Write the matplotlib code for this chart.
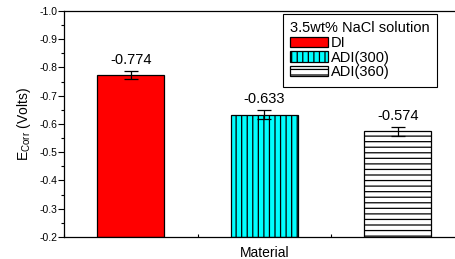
import numpy as np
import matplotlib
matplotlib.use("Agg")
import matplotlib.pyplot as plt
from matplotlib.ticker import MultipleLocator, FormatStrFormatter

plt.rcParams['font.family'] = ['Liberation Sans', 'DejaVu Sans']
plt.rcParams['hatch.linewidth'] = 0.9

# data
materials = ['DI', 'ADI(300)', 'ADI(360)']
e_corr = np.array([-0.774, -0.633, -0.574])
e_err = np.array([0.015, 0.015, 0.015])
base = -0.2
colors = ['#ff0000', '#00ffff', '#ffffff']
hatches = ['', '|||', '---']

fig = plt.figure(figsize=(4.56, 2.59), dpi=100)
# axes run past the right edge like the cropped original
ax = fig.add_axes([64/456, 22/259, 400.5/456, 226/259])

x = np.arange(1, len(materials) + 1)
for i in range(len(materials)):
    ax.bar(x[i], e_corr[i] - base, bottom=base, width=0.5,
           color=colors[i], edgecolor='black', linewidth=0.9,
           hatch=hatches[i], label=materials[i], zorder=2)

ax.errorbar(x, e_corr, yerr=e_err, fmt='none', ecolor='black',
            elinewidth=0.9, capsize=5, capthick=0.9, zorder=3)

for xi, v, er in zip(x, e_corr, e_err):
    ax.text(xi, v - er - 0.014, f'{v:.3f}', ha='center', va='bottom', fontsize=10.5)

ax.set_ylim(-0.2, -1.0)
ax.set_xlim(0.5, 3.5)
ax.yaxis.set_major_locator(MultipleLocator(0.1))
ax.yaxis.set_minor_locator(MultipleLocator(0.05))
ax.yaxis.set_major_formatter(FormatStrFormatter('%.1f'))
ax.xaxis.set_major_locator(MultipleLocator(0.5))
ax.set_xticklabels([])
ax.tick_params(axis='y', which='major', direction='out', length=4, width=0.8, labelsize=7.5, pad=1)
ax.tick_params(axis='y', which='minor', direction='out', length=2, width=0.8)
ax.tick_params(axis='x', which='major', direction='in', length=2, width=0.8)
for s in ax.spines.values():
    s.set_linewidth(0.9)

ax.set_ylabel(r'$\mathregular{E_{Corr}}$ (Volts)', fontsize=10, labelpad=4)
ax.set_xlabel('Material', fontsize=10, labelpad=3)

leg = ax.legend(title='3.5wt% NaCl solution', loc='upper left',
                bbox_to_anchor=(0.547, 0.987), borderaxespad=0,
                fontsize=10.5, title_fontsize=10.5, handlelength=2.6,
                handleheight=0.7, labelspacing=0.05, handletextpad=0.2,
                borderpad=0.5, fancybox=False, edgecolor='black', framealpha=1)
leg._legend_box.align = 'left'
leg.get_frame().set_linewidth(0.8)

fig.savefig('out.png', dpi=100)
